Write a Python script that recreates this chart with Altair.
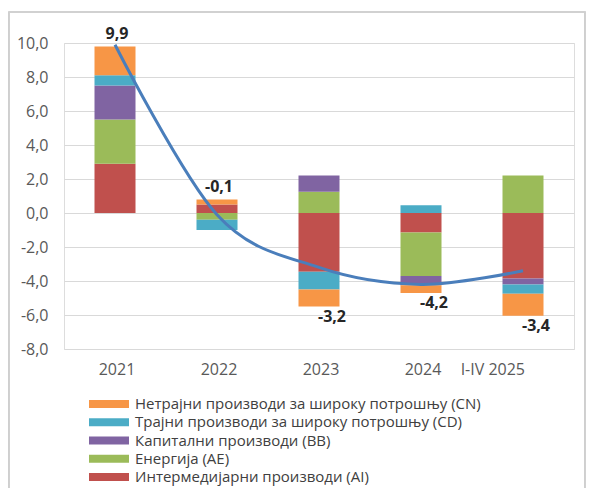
import altair as alt
import pandas as pd

years = ["2021", "2022", "2023", "2024", "I-IV 2025"]
series_names = [
    "Интермедијарни производи (AI)",
    "Енергија (AE)",
    "Капитални производи (BB)",
    "Трајни производи за широку потрошњу (CD)",
    "Нетрајни производи за широку потрошњу (CN)",
]
AI = [2.9, 0.5, -3.45, -1.15, -3.85]
AE = [2.6, -0.4, 1.25, -2.55, 2.2]
BB = [2.0, 0.0, 0.95, -0.55, -0.35]
CD = [0.6, -0.6, -1.05, 0.45, -0.55]
CN = [1.7, 0.3, -1.0, -0.45, -1.3]
total = [9.9, -0.1, -3.2, -4.2, -3.4]

colors = ["#C0504D", "#9BBB59", "#8064A2", "#4BACC6", "#F79646"]

rows = []
for s_i, (name, vals) in enumerate(zip(series_names, [AI, AE, BB, CD, CN])):
    for y, v in zip(years, vals):
        rows.append({"year": y, "series": name, "value": v, "order": s_i})
bars_df = pd.DataFrame(rows)

pos_top = [sum(v for v in col if v > 0) for col in zip(AI, AE, BB, CD, CN)]
neg_bot = [sum(v for v in col if v < 0) for col in zip(AI, AE, BB, CD, CN)]
line_df = pd.DataFrame({"year": years, "total": total})
line_df["anchor"] = [p if t > -1 else n for t, p, n in zip(total, pos_top, neg_bot)]
line_df["above"] = [t > -1 for t in total]

FONT = "Open Sans"
GRID = "#D9D9D9"
FMT = "(datum.value < 0 ? '-' : '') + replace(format(abs(datum.value), '.1f'), '.', ',')"

x_scale = alt.Scale(paddingInner=0.6, paddingOuter=0.3)
x_axis = alt.Axis(
    title=None,
    labelAngle=0,
    ticks=False,
    domain=False,
    labelFont=FONT,
    labelFontSize=16,
    labelColor="#595959",
    labelPadding=12,
    labelOffset=2,
    labelAlign={"condition": {"test": "datum.value == 'I-IV 2025'", "value": "right"}, "value": "center"},
)
y_scale = alt.Scale(domain=[-8, 10], nice=False)
y_axis = alt.Axis(
    title=None,
    values=list(range(-8, 11, 2)),
    labelExpr=FMT,
    labelOverlap=False,
    ticks=False,
    domain=False,
    labelFont=FONT,
    labelFontSize=16,
    labelColor="#595959",
    labelPadding=16,
    grid=True,
    gridColor=GRID,
    gridWidth=1.2,
)


def X():
    return alt.X("year:N", sort=years, scale=x_scale, axis=x_axis)


def Y(field, **kw):
    return alt.Y(field, scale=y_scale, axis=y_axis, **kw)


bars = alt.Chart(bars_df).mark_bar(size=41).encode(
    x=X(),
    y=Y("value:Q", stack="zero"),
    color=alt.Color(
        "series:N",
        scale=alt.Scale(domain=series_names, range=colors),
        sort=list(reversed(series_names)),
        legend=alt.Legend(
            title=None,
            orient="none",
            legendX=25,
            legendY=353,
            direction="vertical",
            symbolType="M-1,-0.2L1,-0.2L1,0.2L-1,0.2Z",
            symbolSize=1600,
            symbolStrokeWidth=0,
            clipHeight=16,
            rowPadding=2.25,
            labelOffset=6,
            labelFont=FONT,
            labelFontSize=15,
            labelColor="#404040",
            labelLimit=500,
            padding=0,
            values=list(reversed(series_names)),
        ),
    ),
    order=alt.Order("order:Q", sort="ascending"),
)

line = alt.Chart(line_df).mark_line(
    color="#4A7EBB", strokeWidth=3, interpolate="cardinal"
).encode(x=X(), y=Y("total:Q"))

label_base = alt.Chart(line_df).transform_calculate(
    lbl="(datum.total < 0 ? '-' : '') + replace(format(abs(datum.total), '.1f'), '.', ',')"
)
labels_above = label_base.transform_filter("datum.above").mark_text(
    font=FONT, fontSize=16, fontWeight="bold", color="#262626",
    baseline="bottom", dy=-4, dx=2,
).encode(x=X(), y=Y("anchor:Q"), text="lbl:N")
labels_below = label_base.transform_filter("!datum.above").mark_text(
    font=FONT, fontSize=16, fontWeight="bold", color="#262626",
    baseline="top", dy=2, dx=13,
).encode(x=X(), y=Y("anchor:Q"), text="lbl:N")

frame = alt.Chart(line_df).mark_rect(
    fill=None, stroke="#D0D0D0", strokeWidth=1.2
).encode(
    x=alt.value(-55), x2=alt.value(521), y=alt.value(-31), y2=alt.value(480)
)

chart = alt.layer(frame, bars, line, labels_above, labels_below).properties(
    width=510,
    height=306,
    autosize=alt.AutoSizeParams(type="none"),
    padding={"left": 56, "top": 35, "right": 13, "bottom": 139},
).configure_view(stroke=None).configure(background="white")

chart.save("out.html", embed_options={"renderer": "svg", "actions": False})
